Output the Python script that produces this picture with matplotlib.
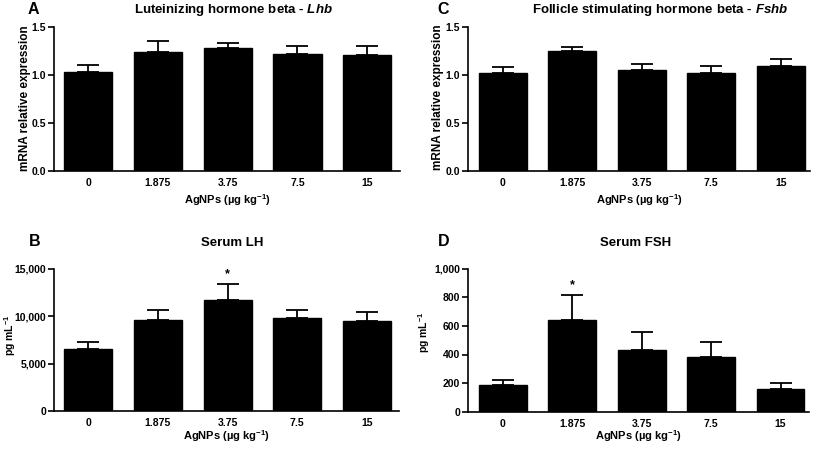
import matplotlib
matplotlib.use("Agg")
import matplotlib.pyplot as plt
import numpy as np

plt.rcParams['font.family'] = ['Liberation Sans', 'DejaVu Sans']
plt.rcParams['font.weight'] = 'bold'
plt.rcParams['mathtext.fontset'] = 'custom'
plt.rcParams['mathtext.rm'] = 'Liberation Sans:bold'
plt.rcParams['mathtext.it'] = 'Liberation Sans:bold:italic'
plt.rcParams['mathtext.bf'] = 'Liberation Sans:bold'
plt.rcParams['mathtext.default'] = 'bf'

doses = ["0", "1.875", "3.75", "7.5", "15"]

lhb_mean = [1.03, 1.24, 1.28, 1.215, 1.21]
lhb_err = [0.07, 0.11, 0.05, 0.085, 0.095]

fshb_mean = [1.02, 1.245, 1.05, 1.02, 1.09]
fshb_err = [0.065, 0.05, 0.065, 0.07, 0.075]

lh_mean = [6520, 9640, 11690, 9820, 9470]
lh_err = [740, 1030, 1720, 880, 1020]

fsh_mean = [189, 641, 431, 382, 159]
fsh_err = [35, 175, 124, 108, 41]

fig = plt.figure(figsize=(8.17, 4.49), dpi=100)

W, H = 817, 449

def ax_at(l, r, b, t):
    return fig.add_axes([l / W, 1 - b / H, (r - l) / W, (b - t) / H])

panels = [
    dict(rect=(54, 400, 171, 27), xlim=(-0.49, 4.47), mean=lhb_mean, err=lhb_err, ylim=(0, 1.5),
         yticks=[0.0, 0.5, 1.0, 1.5], yfmt=lambda v: f"{v:.1f}",
         ylabel="mRNA relative expression", yl_x=25, yl_y=98, yl_fs=8.5,
         title=r"Luteinizing hormone beta - $\mathit{Lhb}$", title_x=233, title_y=10,
         letter="A", lx=28, ly=10, star=None, xl_y=200),
    dict(rect=(468, 810, 171, 27), xlim=(-0.5, 4.42), mean=fshb_mean, err=fshb_err, ylim=(0, 1.5),
         yticks=[0.0, 0.5, 1.0, 1.5], yfmt=lambda v: f"{v:.1f}",
         ylabel="mRNA relative expression", yl_x=438, yl_y=97, yl_fs=8.5,
         title=r"Follicle stimulating hormone beta - $\mathit{Fshb}$", title_x=660, title_y=10,
         letter="C", lx=437, ly=10, star=None, xl_y=200),
    dict(rect=(54, 399, 411, 269), xlim=(-0.49, 4.46), mean=lh_mean, err=lh_err, ylim=(0, 15000),
         yticks=[0, 5000, 10000, 15000], yfmt=lambda v: f"{int(v):,}",
         ylabel=r"pg mL$^{-1}$", yl_x=10, yl_y=335, yl_fs=7.5,
         title="Serum LH", title_x=232, title_y=243,
         letter="B", lx=29, ly=242, star=2, xl_y=436),
    dict(rect=(468, 809, 411.7, 268.7), xlim=(-0.5, 4.41), mean=fsh_mean, err=fsh_err, ylim=(0, 1000),
         yticks=[0, 200, 400, 600, 800, 1000], yfmt=lambda v: f"{int(v):,}",
         ylabel=r"pg mL$^{-1}$", yl_x=424, yl_y=332, yl_fs=7.5,
         title="Serum FSH", title_x=636, title_y=243,
         letter="D", lx=438, ly=242, star=1, xl_y=436),
]

for p in panels:
    l, r, b, t = p["rect"]
    ax = ax_at(l, r, b, t)
    x = np.arange(len(doses))
    ax.bar(x, p["mean"], width=0.69, color="black", edgecolor="black", zorder=2)
    ax.errorbar(x, p["mean"], yerr=[np.zeros(len(x)), p["err"]], fmt="none",
                ecolor="black", elinewidth=1.3, capsize=8, capthick=1.3, zorder=1)
    ax.set_xlim(*p["xlim"])
    ax.set_ylim(*p["ylim"])
    ax.set_yticks(p["yticks"])
    ax.set_yticklabels([p["yfmt"](v) for v in p["yticks"]], fontsize=7.5, fontweight="bold")
    ax.set_xticks(x)
    ax.set_xticklabels(doses, fontsize=7.5, fontweight="bold")
    ax.tick_params(axis="x", length=0, pad=5)
    ax.tick_params(axis="y", length=4, width=1.2, pad=1.5, direction="out")
    for s in ["top", "right"]:
        ax.spines[s].set_visible(False)
    for s in ["left", "bottom"]:
        ax.spines[s].set_linewidth(1.2)
    ax.patch.set_alpha(0)
    fig.text(p["yl_x"] / W, 1 - p["yl_y"] / H, p["ylabel"], ha="center", va="center",
             rotation=90, fontsize=p["yl_fs"], fontweight="bold")
    cx = (l + r) / 2
    fig.text(cx / W, 1 - p["xl_y"] / H, "AgNPs (µg kg$^{-1}$)", ha="center", va="center",
             fontsize=8, fontweight="bold")
    fig.text(p["title_x"] / W, 1 - p["title_y"] / H, p["title"], ha="center", va="center",
             fontsize=9.5, fontweight="bold")
    fig.text(p["lx"] / W, 1 - p["ly"] / H, p["letter"], ha="left", va="center",
             fontsize=11.5, fontweight="bold")
    if p["star"] is not None:
        i = p["star"]
        top = p["mean"][i] + p["err"][i]
        ax.annotate("*", xy=(i, top), xytext=(0, 3), textcoords="offset points",
                    ha="center", va="bottom", fontsize=9, fontweight="bold")

fig.savefig("out.png", dpi=100)
